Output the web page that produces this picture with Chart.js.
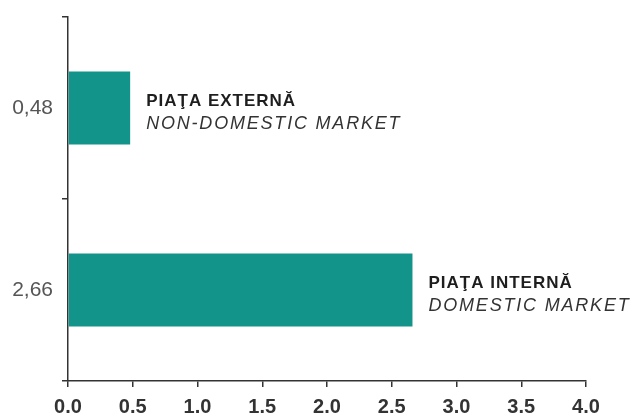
<!DOCTYPE html>
<html>
<head>
<meta charset="utf-8">
<script src="https://cdn.jsdelivr.net/npm/chart.js@4/dist/chart.umd.min.js"></script>
<style>
  html, body { margin: 0; padding: 0; background: #fff; }
  #wrap { width: 634px; height: 414px; }
</style>
</head>
<body>
<div id="wrap"><canvas id="marketChart" width="634" height="414"></canvas></div>
<script>
const valueLabels = ["0,48", "2,66"];
const values = [0.48, 2.66];
const namesRo = ["PIAŢA EXTERNĂ", "PIAŢA INTERNĂ"];
const namesEn = ["NON-DOMESTIC MARKET", "DOMESTIC MARKET"];
const xTickLabels = ["0.0", "0.5", "1.0", "1.5", "2.0", "2.5", "3.0", "3.5", "4.0"];

const barLabels = {
  id: "barLabels",
  afterDatasetsDraw(chart) {
    const ctx = chart.ctx;
    const meta = chart.getDatasetMeta(0);
    ctx.save();
    ctx.textAlign = "left";
    ctx.textBaseline = "middle";
    meta.data.forEach((bar, i) => {
      const x = bar.x + 16;
      ctx.fillStyle = "#1e1e1e";
      ctx.font = "bold 17px 'Liberation Sans', Arial, sans-serif";
      ctx.letterSpacing = "1px";
      ctx.fillText(namesRo[i], x, bar.y - 7);
      ctx.fillStyle = "#333";
      ctx.font = "italic 18px 'Liberation Sans', Arial, sans-serif";
      ctx.letterSpacing = "1.8px";
      ctx.fillText(namesEn[i], x, bar.y + 16);
    });
    ctx.restore();
  }
};

new Chart(document.getElementById("marketChart").getContext("2d"), {
  type: "bar",
  data: {
    labels: valueLabels,
    datasets: [{
      data: values,
      backgroundColor: "#12948a",
      borderWidth: 0,
      barPercentage: 0.4,
      categoryPercentage: 1
    }]
  },
  options: {
    indexAxis: "y",
    responsive: false,
    animation: false,
    layout: { padding: { top: 17, right: 48, left: 0, bottom: 0 } },
    plugins: { legend: { display: false }, tooltip: { enabled: false } },
    scales: {
      x: {
        min: 0,
        max: 4,
        afterFit: (s) => { s.height = 33; },
        afterBuildTicks: (s) => {
          s.ticks = xTickLabels.map((t, i) => ({ value: i * 0.5 }));
        },
        ticks: {
          callback: (v, i) => xTickLabels[i],
          color: "#333",
          padding: 8,
          maxRotation: 0,
          font: { family: "'Liberation Sans', Arial", size: 20, weight: "bold" }
        },
        grid: { drawOnChartArea: false, drawTicks: true, tickLength: 6, color: "#333", lineWidth: 1.5 },
        border: { display: true, color: "#333", width: 1.5 }
      },
      y: {
        offset: true,
        afterFit: (s) => {
          s.width = 68;
          s.paddingTop = 0;
          s.paddingBottom = 0;
        },
        ticks: {
          color: "#555",
          padding: 9,
          font: { family: "'Liberation Sans', Arial", size: 21 }
        },
        grid: { offset: true, drawOnChartArea: false, drawTicks: true, tickLength: 6, color: "#333", lineWidth: 1.5 },
        border: { display: true, color: "#333", width: 1.5 }
      }
    }
  },
  plugins: [barLabels]
});
</script>
</body>
</html>
